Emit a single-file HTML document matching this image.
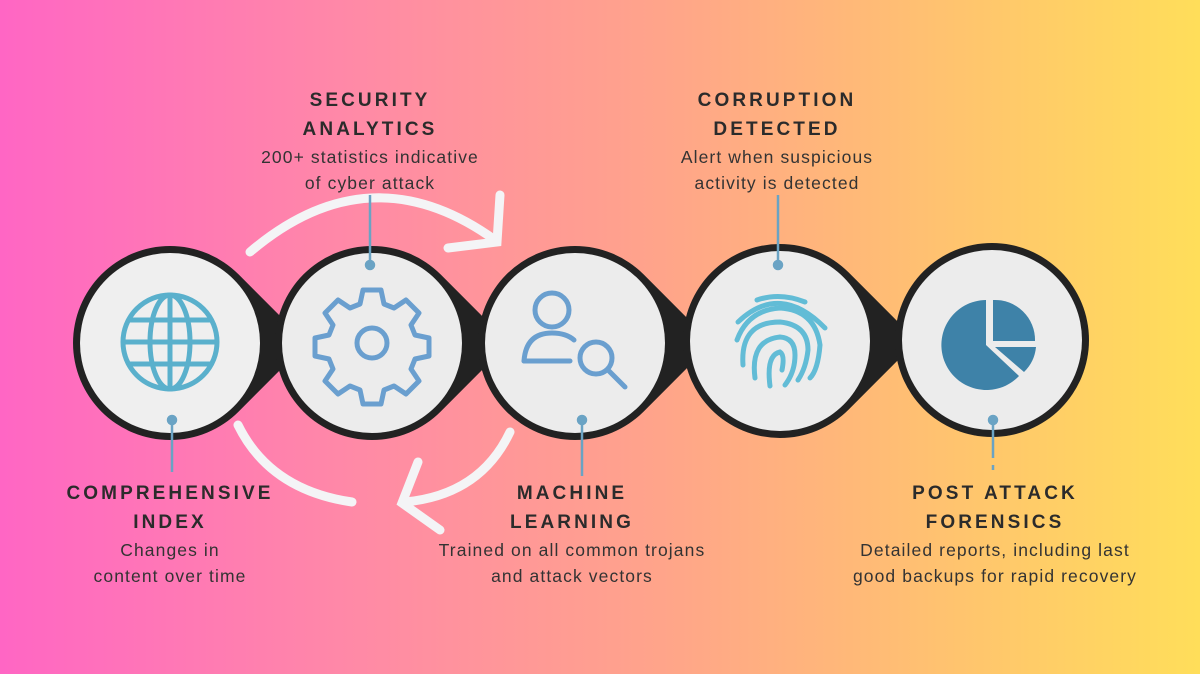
<!DOCTYPE html>
<html><head><meta charset="utf-8"><style>
html,body{margin:0;padding:0;}
body{width:1200px;height:674px;overflow:hidden;background:linear-gradient(90deg,#ff66c4 0%,#ff8aa6 30%,#ffa48a 55%,#ffc46e 80%,#ffde5a 100%);font-family:"Liberation Sans",sans-serif;position:relative;}
.t{position:absolute;text-align:center;color:#2b2b2b;white-space:nowrap;}
.h{font-weight:bold;font-size:19px;letter-spacing:3.1px;line-height:29px;}
.b{font-size:17.5px;letter-spacing:1.1px;line-height:26px;color:#333;}
svg{position:absolute;left:0;top:0;}
</style></head><body>
<svg width="1200" height="674" viewBox="0 0 1200 674">
<g fill="none" stroke="#f4f4f6" stroke-width="9" stroke-linecap="round">
<path d="M250 252 Q370 150 495 240"/>
<path d="M448 248 L497 242 L500 195"/>
<path d="M238 425 Q270 490 352 502"/>
<path d="M510 432 Q480 495 405 502"/>
<path d="M418 462 L402 503 L440 530"/>
</g>
<g>
<path d="M307 343 L238.6 411.6 A97 97 0 1 1 238.6 274.4 Z" fill="#222"/>
<circle cx="170" cy="343" r="90" fill="#efefef"/>
<path d="M509 343 L440.6 411.6 A97 97 0 1 1 440.6 274.4 Z" fill="#222"/>
<circle cx="372" cy="343" r="90" fill="#ececec"/>
<path d="M712 343 L643.6 411.6 A97 97 0 1 1 643.6 274.4 Z" fill="#222"/>
<circle cx="575" cy="343" r="90" fill="#ececec"/>
<path d="M917 341 L848.6 409.6 A97 97 0 1 1 848.6 272.4 Z" fill="#222"/>
<circle cx="780" cy="341" r="90" fill="#ececec"/>
<circle cx="992" cy="340" r="97" fill="#222"/>
<circle cx="992" cy="340" r="90" fill="#ececec"/>
</g>
<g fill="none" stroke="#5ab0cc" stroke-width="5">
<circle cx="170" cy="342" r="47"/>
<ellipse cx="170" cy="342" rx="20" ry="47"/>
<line x1="170" y1="295" x2="170" y2="389"/>
<line x1="123" y1="342" x2="217" y2="342"/>
<line x1="130" y1="320" x2="210" y2="320"/>
<line x1="130" y1="364" x2="210" y2="364"/>
</g>
<g fill="none" stroke="#6a9fcf" stroke-width="5" stroke-linejoin="round">
<path d="M363 290 h18 l3 14 l10 4 l12 -8 l13 13 l-8 12 l4 10 l14 3 v18 l-14 3 l-4 10 l8 12 l-13 13 l-12 -8 l-10 4 l-3 14 h-18 l-3 -14 l-10 -4 l-12 8 l-13 -13 l8 -12 l-4 -10 l-14 -3 v-18 l14 -3 l4 -10 l-8 -12 l13 -13 l12 8 l10 -4 z"/>
<circle cx="372" cy="343" r="15"/>
</g>
<g fill="none" stroke="#6a9fcf" stroke-width="5" stroke-linecap="round">
<circle cx="552" cy="310" r="17"/>
<path d="M524 361 Q526 333 552 333 Q566 333 574 340"/>
<line x1="524" y1="361" x2="570" y2="361"/>
<circle cx="596" cy="358" r="16"/>
<line x1="608" y1="370" x2="625" y2="387"/>
</g>
<g fill="none" stroke="#62bcd6" stroke-width="5" stroke-linecap="round">
<path d="M757 300 Q780 292 805 302"/>
<path d="M738 322 Q780 282 825 328"/>
<path d="M737 340 Q748 310 780 308 Q815 310 820 345 Q818 370 810 378"/>
<path d="M743 365 Q740 322 780 322 Q808 325 808 350 Q806 368 798 380"/>
<path d="M755 378 Q750 340 780 337 Q795 338 795 355 Q795 372 785 385"/>
<path d="M770 386 Q766 355 780 352 Q785 355 782 370"/>
</g>
<g fill="#3e82a8">
<path d="M986 300 L986 345 L1019 376 A45 45 0 1 1 986 300 Z"/>
<path d="M993 300 A40 40 0 0 1 1035 341 L993 341 Z"/>
<path d="M995 347 L1036 347 A40 40 0 0 1 1024 372 Z"/>
</g>
<g stroke="#6aa3c4" stroke-width="2.5" fill="#6aa3c4">
<line x1="370" y1="195" x2="370" y2="265"/><circle cx="370" cy="265" r="4"/>
<line x1="778" y1="195" x2="778" y2="265"/><circle cx="778" cy="265" r="4"/>
<line x1="172" y1="420" x2="172" y2="472"/><circle cx="172" cy="420" r="4"/>
<line x1="582" y1="420" x2="582" y2="476"/><circle cx="582" cy="420" r="4"/>
<line x1="993" y1="420" x2="993" y2="458"/><circle cx="993" cy="420" r="4"/>
<line x1="993" y1="465" x2="993" y2="470"/>
</g>
</svg>
<div class="t" style="left:170px;width:400px;top:86px"><div class="h">SECURITY<br>ANALYTICS</div><div class="b">200+ statistics indicative<br>of cyber attack</div></div>
<div class="t" style="left:577px;width:400px;top:86px"><div class="h">CORRUPTION<br>DETECTED</div><div class="b">Alert when suspicious<br>activity is detected</div></div>
<div class="t" style="left:-30px;width:400px;top:479px"><div class="h">COMPREHENSIVE<br>INDEX</div><div class="b">Changes in<br>content over time</div></div>
<div class="t" style="left:372px;width:400px;top:479px"><div class="h">MACHINE<br>LEARNING</div><div class="b">Trained on all common trojans<br>and attack vectors</div></div>
<div class="t" style="left:795px;width:400px;top:479px"><div class="h">POST ATTACK<br>FORENSICS</div><div class="b">Detailed reports, including last<br>good backups for rapid recovery</div></div>
</body></html>
